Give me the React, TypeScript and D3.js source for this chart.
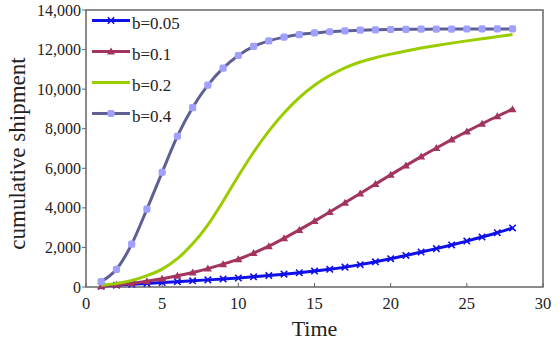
import React from 'react';
import * as d3 from 'd3';

const times = d3.range(1, 29);
const seriesNames = ['b=0.05', 'b=0.1', 'b=0.2', 'b=0.4'];
const b005 = [45, 90, 135, 180, 225, 270, 315, 360, 405, 455, 515, 580, 650, 725, 805, 895, 1005, 1130, 1275, 1430, 1595, 1765, 1940, 2125, 2320, 2525, 2745, 2985];
const b01 = [40, 110, 195, 295, 420, 565, 735, 930, 1155, 1405, 1715, 2065, 2460, 2885, 3330, 3790, 4255, 4730, 5200, 5670, 6135, 6590, 7025, 7450, 7860, 8250, 8630, 8990];
const b02 = [90, 180, 330, 575, 905, 1430, 2180, 3145, 4335, 5610, 6810, 7880, 8800, 9575, 10200, 10690, 11080, 11370, 11590, 11770, 11930, 12075, 12205, 12325, 12440, 12550, 12655, 12760];
const b04 = [270, 895, 2170, 3940, 5800, 7620, 9070, 10200, 11060, 11700, 12160, 12440, 12630, 12760, 12840, 12900, 12950, 12980, 13000, 13015, 13025, 13030, 13035, 13038, 13040, 13042, 13044, 13045];
const xTicks = [0, 5, 10, 15, 20, 25, 30];
const yTicks = [0, 2000, 4000, 6000, 8000, 10000, 12000, 14000];

const W = 560;
const H = 340;
const left = 86, right = 543, top = 10, bottom = 287;
const font = 'Liberation Serif';

const colors = ['#1010e8', '#a3335f', '#9acd00', '#5f5f94'];
const markerFill = '#a0a0ff';

type Kind = 'x' | 'tri' | 'none' | 'sq';
const kinds: Kind[] = ['x', 'tri', 'none', 'sq'];

function Marker({ kind, x, y, color }: { kind: Kind; x: number; y: number; color: string }) {
  if (kind === 'x') {
    const s = 3.2;
    return (
      <path d={`M${x - s},${y - s}L${x + s},${y + s}M${x - s},${y + s}L${x + s},${y - s}`} stroke={color} strokeWidth={1.6} />
    );
  }
  if (kind === 'tri') {
    const s = 4;
    return <path d={`M${x},${y - s}L${x + s},${y + s * 0.75}L${x - s},${y + s * 0.75}Z`} fill={color} />;
  }
  if (kind === 'sq') {
    return <rect x={x - 3.6} y={y - 3.6} width={7.2} height={7.2} rx={2} fill={markerFill} />;
  }
  return null;
}

export default function App() {
  const x = d3.scaleLinear().domain([0, 30]).range([left, right]);
  const y = d3.scaleLinear().domain([0, 14000]).range([bottom, top]);
  const line = d3.line<number>().x((_, i) => x(times[i])).y((d) => y(d)).curve(d3.curveMonotoneX);
  const data = [b005, b01, b02, b04];
  const fmt = d3.format(',');
  const ts = { fontFamily: font };

  return (
    <svg width={W} height={H} style={{ position: 'absolute', left: 0, top: 0, background: '#fff' }}>
      <rect width={W} height={H} fill="#fff" />
      {/* axes box */}
      <rect x={left} y={top} width={right - left} height={bottom - top} fill="none" stroke="#666" strokeWidth={1.5} />
      {yTicks.map((t) => (
        <g key={t}>
          <line x1={left - 4} x2={left} y1={y(t)} y2={y(t)} stroke="#666" strokeWidth={1} />
          <text x={left - 5} y={y(t)} dy="0.35em" textAnchor="end" fontSize={16} fill="#222" style={ts}>{fmt(t)}</text>
        </g>
      ))}
      {xTicks.map((t) => (
        <g key={t}>
          <line x1={x(t)} x2={x(t)} y1={bottom} y2={bottom - 4} stroke="#666" strokeWidth={1} />
          <text x={x(t)} y={308.5} textAnchor="middle" fontSize={16.5} fill="#222" style={ts}>{t}</text>
        </g>
      ))}
      <text x={(left + right) / 2} y={336} textAnchor="middle" fontSize={22} fill="#222" style={ts}>Time</text>
      <text transform={`translate(17,${(top + bottom) / 2 + 5}) rotate(-90)`} dy="0.35em" textAnchor="middle" fontSize={23} fill="#222" style={ts}>cumulative shipment</text>

      {/* series */}
      {data.map((vals, k) => (
        <g key={seriesNames[k]}>
          <path d={line(vals) ?? ''} fill="none" stroke={colors[k]} strokeWidth={3} />
          {vals.map((v, i) => (
            <Marker key={i} kind={kinds[k]} x={x(times[i])} y={y(v)} color={colors[k]} />
          ))}
        </g>
      ))}

      {/* legend */}
      {seriesNames.map((name, k) => {
        const ly = 20.5 + k * 31;
        return (
          <g key={name}>
            <line x1={92} x2={130} y1={ly} y2={ly} stroke={colors[k]} strokeWidth={3} />
            <Marker kind={kinds[k]} x={111} y={ly} color={colors[k]} />
            <text x={132} y={ly + 8.5} fontSize={17} fill="#222" style={ts}>{name}</text>
          </g>
        );
      })}
    </svg>
  );
}
